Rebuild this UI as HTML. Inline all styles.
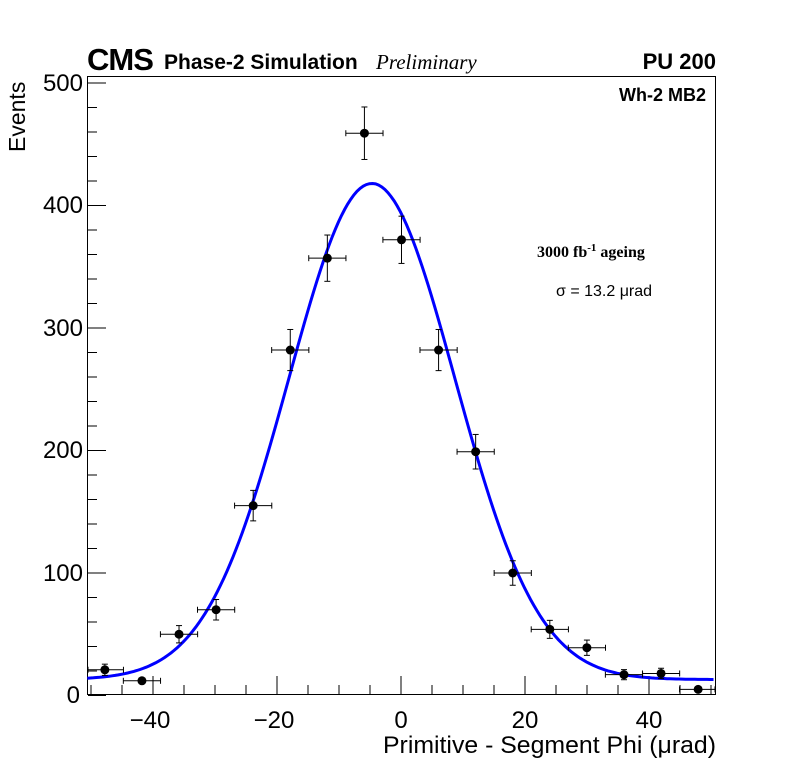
<!DOCTYPE html>
<html><head><meta charset="utf-8"><style>
body{margin:0;background:#fff;}
svg{display:block;font-family:"Liberation Sans",sans-serif;}
</style></head><body>
<svg id="s" width="796" height="772" xmlns="http://www.w3.org/2000/svg">
<rect width="796" height="772" fill="#fff"/>
<rect x="87.5" y="76.5" width="628" height="618" fill="none" stroke="#000" stroke-width="1"/>
<g id="ticks" stroke="#000" stroke-width="1"></g>
<g font-size="24" fill="#000">
<text x="80" y="703" text-anchor="end">0</text>
<text x="83" y="581" text-anchor="end">100</text>
<text x="83" y="458" text-anchor="end">200</text>
<text x="83" y="336" text-anchor="end">300</text>
<text x="83" y="213" text-anchor="end">400</text>
<text x="83" y="91" text-anchor="end">500</text>
<text x="150" y="728" text-anchor="middle">−40</text>
<text x="274" y="728" text-anchor="middle">−20</text>
<text x="401" y="728" text-anchor="middle">0</text>
<text x="525" y="728" text-anchor="middle">20</text>
<text x="649" y="728" text-anchor="middle">40</text>
<text x="716" y="753" text-anchor="end" font-size="24" textLength="333" lengthAdjust="spacingAndGlyphs">Primitive - Segment Phi (μrad)</text>
<text transform="translate(25,152) rotate(-90)" text-anchor="start" font-size="23">Events</text>
</g>
<text x="87" y="70" font-size="31" font-weight="bold" letter-spacing="-1">CMS</text>
<text x="164" y="69" font-size="21" font-weight="bold">Phase-2 Simulation</text>
<text x="376" y="69" font-size="21" font-style="italic" font-family="Liberation Serif,serif">Preliminary</text>
<text x="716" y="69" font-size="22" font-weight="bold" text-anchor="end">PU 200</text>
<text x="706" y="101" font-size="18" font-weight="bold" text-anchor="end">Wh-2 MB2</text>
<text x="537" y="257" font-size="16" font-weight="bold" font-family="Liberation Serif,serif">3000 fb<tspan dy="-6" font-size="11">-1</tspan><tspan dy="6"> ageing</tspan></text>
<text x="556" y="296" font-size="16">σ = 13.2 μrad</text>
<path id="curve" fill="none" stroke="#0000ff" stroke-width="3"/>
<g id="pts"></g>
</svg>
<script>
var X=function(x){return 401+6.2*x;},Y=function(y){return 695.5-1.225*y;};
var P=function(x){return 401.5+6.18*x;};
var t='';
for(var v=-50;v<=50;v+=5){var l=(v%20==0)?18:9;t+='<line x1="'+X(v)+'" x2="'+X(v)+'" y1="694" y2="'+(694-l)+'"/>';}
for(var v=0;v<=500;v+=20){var l=(v%100==0)?18:9;t+='<line x1="88" x2="'+(88+l)+'" y1="'+Y(v)+'" y2="'+Y(v)+'"/>';}
document.getElementById('ticks').innerHTML=t;
var d='';
for(var x=-50.6;x<=50.6;x+=0.5){var y=405*Math.exp(-Math.pow(x+4.7,2)/(2*13.4*13.4))+13;d+=(d?'L':'M')+X(x).toFixed(1)+','+Y(y).toFixed(1);}
document.getElementById('curve').setAttribute('d',d);
var data=[[-48,21],[-42,12],[-36,50],[-30,70],[-24,155],[-18,282],[-12,357],[-6,459],[0,372],[6,282],[12,199],[18,100],[24,54],[30,39],[36,17],[42,18],[48,5]];
var p='';
data.forEach(function(a){var cx=P(a[0]),cy=Y(a[1]),e=Math.sqrt(a[1])*1.225;
var x1=Math.max(88,cx-18.6),x2=Math.min(715,cx+18.6);
p+='<line x1="'+x1+'" x2="'+x2+'" y1="'+cy+'" y2="'+cy+'" stroke="#000"/>';
p+='<line x1="'+x1+'" x2="'+x1+'" y1="'+(cy-3)+'" y2="'+(cy+3)+'" stroke="#000"/>';
p+='<line x1="'+x2+'" x2="'+x2+'" y1="'+(cy-3)+'" y2="'+(cy+3)+'" stroke="#000"/>';
if(e>5){p+='<line x1="'+cx+'" x2="'+cx+'" y1="'+(cy-e)+'" y2="'+(cy+e)+'" stroke="#000"/>';
p+='<line x1="'+(cx-3)+'" x2="'+(cx+3)+'" y1="'+(cy-e)+'" y2="'+(cy-e)+'" stroke="#000"/>';
p+='<line x1="'+(cx-3)+'" x2="'+(cx+3)+'" y1="'+(cy+e)+'" y2="'+(cy+e)+'" stroke="#000"/>';}
p+='<circle cx="'+cx+'" cy="'+cy+'" r="4.5" fill="#000"/>';});
document.getElementById('pts').innerHTML=p;
</script>
</body></html>
